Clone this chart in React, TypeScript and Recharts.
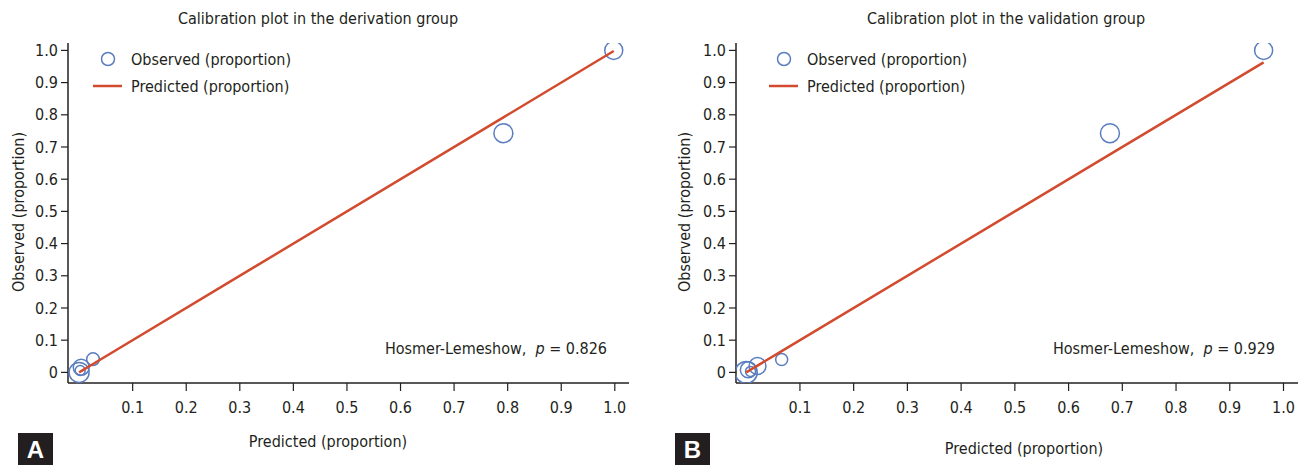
import React from "react";
import { ScatterChart, Scatter, XAxis, YAxis, ZAxis } from "recharts";

// ---- Data ----
const derivPredicted = [0.0, 0.002, 0.004, 0.026, 0.792, 0.998];
const derivObserved = [0.0, 0.006, 0.016, 0.041, 0.743, 1.0];
const derivGroupSize = [100, 25, 64, 40, 90, 81];
const derivPValue = "0.826";

const validPredicted = [0.0, 0.004, 0.008, 0.021, 0.066, 0.677, 0.963];
const validObserved = [0.0, 0.008, 0.003, 0.02, 0.04, 0.743, 1.0];
const validGroupSize = [121, 64, 25, 72, 36, 90, 81];
const validPValue = "0.929";

const xTicks = [0.1, 0.2, 0.3, 0.4, 0.5, 0.6, 0.7, 0.8, 0.9, 1.0];
const yTicks = [0, 0.1, 0.2, 0.3, 0.4, 0.5, 0.6, 0.7, 0.8, 0.9, 1.0];

const FONT = '"Liberation Sans Narrow", "DejaVu Sans Condensed", "Roboto", sans-serif';
const BLUE = "#5a7dbf";
const RED = "#d24b2e";
const TEXT = "#231f20";

const fmt = (v: number) => (v === 0 ? "0" : v.toFixed(1));

type PanelProps = {
  left: number;
  width: number;
  marginRight: number;
  xDomain: [number, number];
  title: string;
  titleX: number;
  xLabelX: number;
  xLabelY: number;
  yLabelX: number;
  legendX: number;
  hlX: number;
  pValue: string;
  letter: string;
  letterX: number;
  predicted: number[];
  observed: number[];
  sizes: number[];
};

const abs = (x: number, y: number, extra: React.CSSProperties = {}): React.CSSProperties => ({
  position: "absolute",
  left: x,
  top: y,
  whiteSpace: "nowrap",
  ...extra,
});

function Panel(p: PanelProps) {
  const points = p.predicted.map((x, i) => ({ x, y: p.observed[i], n: p.sizes[i] }));
  const line = p.predicted.map((x) => ({ x, y: x, n: 0 }));
  return (
    <>
      <div style={{ position: "absolute", left: p.left, top: 0 }}>
        <ScatterChart width={p.width} height={465} margin={{ top: 43, right: p.marginRight, bottom: 0, left: 0 }}>
          <XAxis
            type="number"
            dataKey="x"
            domain={p.xDomain}
            ticks={xTicks}
            tickFormatter={fmt}
            allowDataOverflow
            height={82}
            tickSize={8}
            tickMargin={11}
            axisLine={{ stroke: TEXT, strokeWidth: 1.5 }}
            tickLine={{ stroke: TEXT, strokeWidth: 1.2 }}
            tick={{ fill: TEXT, fontSize: 16, fontFamily: FONT }}
          />
          <YAxis
            type="number"
            dataKey="y"
            domain={[-0.033, 1.023]}
            ticks={yTicks}
            tickFormatter={fmt}
            allowDataOverflow
            width={68}
            tickSize={7}
            tickMargin={3}
            axisLine={{ stroke: TEXT, strokeWidth: 1.5 }}
            tickLine={{ stroke: TEXT, strokeWidth: 1.2 }}
            tick={{ fill: TEXT, fontSize: 16, fontFamily: FONT }}
          />
          <ZAxis type="number" dataKey="n" domain={[0, 121]} range={[0, 121 * Math.PI]} />
          <Scatter
            data={points}
            shape="circle"
            fill="none"
            stroke={BLUE}
            strokeWidth={1.5}
            isAnimationActive={false}
          />
          <Scatter
            data={line}
            line={{ stroke: RED, strokeWidth: 2.5 }}
            lineType="joint"
            shape={() => <g />}
            isAnimationActive={false}
          />
        </ScatterChart>
      </div>
      <div style={abs(p.titleX, 18, { transform: "translate(-50%,-50%)", fontSize: 16 })}>{p.title}</div>
      <div style={abs(p.xLabelX, p.xLabelY, { transform: "translate(-50%,-50%)", fontSize: 16 })}>
        Predicted (proportion)
      </div>
      <div style={abs(p.yLabelX, 212, { transform: "translate(-50%,-50%) rotate(-90deg)", fontSize: 16 })}>
        Observed (proportion)
      </div>
      {/* legend */}
      <div style={abs(p.legendX, 48, { display: "flex", alignItems: "center", height: 22, fontSize: 16 })}>
        <svg width={38} height={22}>
          <circle cx={15} cy={11} r={6.5} fill="none" stroke={BLUE} strokeWidth={1.5} />
        </svg>
        <span>Observed (proportion)</span>
      </div>
      <div style={abs(p.legendX, 75, { display: "flex", alignItems: "center", height: 22, fontSize: 16 })}>
        <svg width={38} height={22}>
          <line x1={0} y1={11} x2={29} y2={11} stroke={RED} strokeWidth={2.5} />
        </svg>
        <span>Predicted (proportion)</span>
      </div>
      <div style={abs(p.hlX, 348, { transform: "translate(-100%,-50%)", fontSize: 16 })}>
        Hosmer-Lemeshow,&nbsp; <i>p</i> = {p.pValue}
      </div>
      <div
        style={abs(p.letterX, 433, {
          width: 35,
          height: 33,
          background: TEXT,
          color: "#fff",
          fontWeight: "bold",
          fontSize: 24,
          fontFamily: '"Liberation Sans", Arial, sans-serif',
          display: "flex",
          alignItems: "center",
          justifyContent: "center",
        })}
      >
        {p.letter}
      </div>
    </>
  );
}

export default function App() {
  return (
    <div
      style={{
        position: "absolute",
        left: 0,
        top: 0,
        width: 1304,
        height: 465,
        background: "#fff",
        fontFamily: FONT,
        color: TEXT,
        overflow: "hidden",
      }}
    >
      <Panel
        left={0}
        width={652}
        marginRight={23}
        xDomain={[-0.0207, 1.0265]}
        title="Calibration plot in the derivation group"
        titleX={318}
        xLabelX={328}
        xLabelY={441}
        yLabelX={18}
        legendX={93}
        hlX={607}
        pValue={derivPValue}
        letter="A"
        letterX={18}
        predicted={derivPredicted}
        observed={derivObserved}
        sizes={derivGroupSize}
      />
      <Panel
        left={668}
        width={636}
        marginRight={6}
        xDomain={[-0.019, 1.027]}
        title="Calibration plot in the validation group"
        titleX={1006}
        xLabelX={1024}
        xLabelY={448}
        yLabelX={684}
        legendX={769}
        hlX={1275}
        pValue={validPValue}
        letter="B"
        letterX={675}
        predicted={validPredicted}
        observed={validObserved}
        sizes={validGroupSize}
      />
    </div>
  );
}
